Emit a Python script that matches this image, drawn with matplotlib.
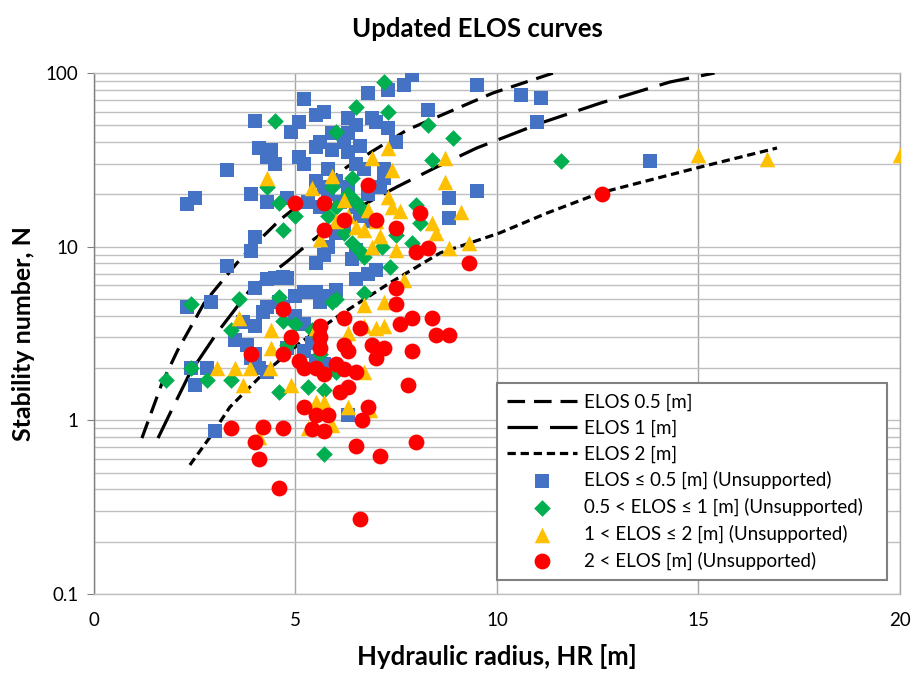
import matplotlib
matplotlib.use("Agg")
import matplotlib.pyplot as plt
from matplotlib.ticker import FixedLocator, NullFormatter

plt.rcParams["font.family"] = ["Lato", "DejaVu Sans"]

# ELOS design curves (hydraulic radius vs stability number)
elos05_hr = [1.19, 1.69, 2.08, 2.75, 3.67, 4.62, 6.28, 7.77, 9.90, 11.4]
elos05_n = [0.79, 1.64, 2.54, 4.80, 8.7, 14.3, 28.8, 47.0, 76.7, 100.0]

elos1_hr = [1.59, 1.89, 2.38, 3.05, 3.87, 4.79, 5.36, 6.35, 7.52, 8.51, 9.50, 11.14, 12.56, 14.29, 15.4]
elos1_n = [0.79, 1.10, 1.87, 3.18, 5.63, 8.2, 10.6, 15.8, 22.1, 28.8, 37.0, 52.0, 67.0, 88.7, 100.0]

elos2_hr = [2.38, 2.88, 3.37, 4.12, 5.11, 6.03, 7.34, 8.59, 10.07, 11.24, 12.56, 14.96, 16.95]
elos2_n = [0.553, 0.80, 1.19, 1.78, 2.79, 3.94, 6.18, 9.2, 12.0, 15.6, 20.4, 28.4, 37.0]

# case histories, grouped by ELOS
blue_hr = [2.3, 2.5, 3.3, 4.0, 3.9, 4.1, 4.4, 4.5, 4.3, 4.0, 4.3, 4.8, 4.9, 5.2, 5.1, 5.7, 5.5, 5.1,
           5.2, 5.5, 5.9, 5.9, 5.6, 5.8, 5.5, 5.7, 6.0, 6.2, 6.3, 6.5, 6.6, 6.3, 6.5, 6.7, 6.3, 6.8,
           7.3, 7.7, 7.9, 6.9, 7.0, 7.3, 7.5, 8.3, 7.2, 9.5, 10.6, 11.1, 11.0, 13.8, 9.5, 8.8, 8.8,
           2.3, 2.9, 3.3, 3.9, 4.0, 4.3, 4.5, 4.7, 4.8, 3.7, 4.0, 4.3, 4.2, 4.6, 4.7, 3.5, 3.8, 4.0,
           4.1, 4.3, 3.9, 2.4, 2.5, 2.8, 3.0, 5.0, 5.2, 5.5, 5.8, 5.6, 6.0, 5.5, 5.7, 5.8, 6.0, 6.2,
           6.4, 6.5, 5.3, 5.6, 5.8, 6.1, 6.3, 6.5, 6.8, 6.6, 6.9, 7.1, 7.2, 6.5, 6.8, 7.0, 5.4, 5.6,
           5.5, 5.7, 5.2, 6.3, 5.0, 5.2, 4.8]
blue_n = [17.5, 19.0, 27.5, 53, 20, 37, 36, 30, 33, 11.3, 18, 19, 46, 71, 52, 60, 57, 33,
          30, 37.5, 36, 45, 40, 28, 24, 22, 24, 40, 45, 50, 38, 35, 30, 28, 55, 77,
          80, 85, 97, 55, 52, 48, 40, 61, 28, 85, 75, 72, 52, 31, 21, 14.6, 19,
          4.5, 4.8, 7.7, 9.5, 5.8, 6.5, 6.6, 6.7, 6.6, 3.7, 3.5, 4.5, 4.2, 4.8, 4.5, 2.9, 2.7, 2.4,
          2.0, 1.9, 2.3, 2.0, 1.6, 2.0, 0.87, 5.2, 5.5, 5.5, 5.2, 4.8, 5.6, 8.0, 9.0, 10.0, 12.0, 13.0,
          8.5, 9.6, 18, 17, 20, 18, 22, 17, 20, 15, 14, 22, 25, 6.5, 7.0, 7.3, 2.8, 3.0,
          2.2, 2.1, 2.5, 1.07, 4.0, 3.6, 2.6]

green_hr = [1.8, 2.4, 2.4, 2.8, 3.4, 3.4, 3.6, 4.6, 4.6, 4.7, 5.0, 5.7, 5.3, 5.7, 5.9, 6.7, 7.35,
            6.7, 7.2, 6.5, 7.3, 6.0, 8.3, 8.9, 8.4, 6.4, 8.0, 8.1, 4.5, 4.6, 5.0, 4.7, 4.3, 6.4,
            7.9, 7.15, 7.5, 11.6, 6.0, 5.8, 6.0, 6.2, 6.3, 6.5, 6.7, 6.6, 5.9, 6.0, 5.6, 5.4, 4.8]
green_n = [1.7, 4.7, 2.0, 1.7, 1.7, 3.3, 5.0, 1.45, 5.1, 3.75, 3.6, 0.64, 1.56, 1.5, 4.8, 5.4, 7.6,
           8.7, 89, 64, 60, 46, 50, 42, 31.6, 24.8, 17.4, 13.7, 53, 17.8, 15, 12.5, 22, 10.5,
           10.5, 9.9, 11.7, 31, 5.0, 15, 17, 12, 20, 18, 16, 9.5, 22, 1.9, 2.4, 3.3, 2.7]

yellow_hr = [3.05, 3.5, 3.87, 4.37, 3.7, 4.4, 4.4, 3.6, 4.9, 4.1, 5.5, 6.7, 7.2, 7.0, 6.3, 6.7,
             5.5, 5.7, 6.3, 6.85, 5.3, 5.9, 7.7, 8.8, 9.3, 7.2, 6.7, 7.3, 6.9, 7.4, 8.7, 8.7, 9.1,
             5.9, 5.4, 6.2, 6.8, 7.3, 7.4, 8.4, 8.5, 6.5, 6.7, 5.6, 7.1, 7.5, 15.0, 16.7, 20.0,
             4.3, 6.0, 6.3, 7.0, 7.6, 6.9]
yellow_n = [2.0, 2.0, 2.0, 2.0, 1.6, 3.3, 2.6, 3.9, 1.6, 0.8, 3.4, 3.5, 3.5, 3.4, 3.2, 1.9,
            1.27, 1.27, 1.2, 1.15, 0.9, 0.94, 6.4, 9.8, 10.5, 4.8, 4.6, 37, 32.5, 27.6, 32.5, 23.6, 15.8,
            25.4, 21.8, 18.6, 16.2, 19.3, 17, 13.7, 12, 13, 12.5, 11, 11.5, 9.6, 33.5, 32, 33.5,
            25, 14, 15, 14, 16, 10]

red_hr = [9.3, 7.5, 7.5, 7.6, 7.9, 8.4, 8.5, 8.8, 6.9, 7.2, 7.0, 7.9, 7.8, 6.2, 6.6, 5.6, 4.9,
          5.6, 5.6, 6.2, 6.3, 4.7, 5.1, 5.2, 5.5, 5.7, 6.0, 6.2, 6.5, 6.1, 6.3, 6.8, 6.65, 5.2,
          5.5, 5.8, 5.4, 5.7, 4.7, 6.5, 7.1, 8.0, 4.6, 6.6, 4.7, 8.0, 8.3, 6.8, 5.0, 5.7, 6.2,
          5.7, 7.0, 7.5, 8.1, 3.9, 3.4, 4.2, 4.0, 4.1, 12.6]
red_n = [8.1, 5.8, 4.7, 3.6, 3.9, 3.9, 3.1, 3.1, 2.7, 2.6, 2.3, 2.5, 1.6, 3.9, 3.4, 3.5, 3.0,
         3.0, 2.6, 2.7, 2.5, 2.4, 2.2, 2.0, 2.0, 1.84, 2.1, 1.98, 1.9, 1.45, 1.55, 1.2, 1.0, 1.19,
         1.07, 1.07, 0.89, 0.87, 0.9, 0.71, 0.62, 0.75, 0.41, 0.27, 4.4, 9.3, 9.8, 22.7, 17.9, 17.9, 14.3,
         12.5, 14.3, 12.8, 15.6, 2.4, 0.9, 0.92, 0.75, 0.6, 20.2]

fig = plt.figure(figsize=(9.23, 6.79), dpi=100)
ax = fig.add_axes([0.1018, 0.1252, 0.8732, 0.7673])

lw = 2.3
ax.plot(elos05_hr, elos05_n, color="black", lw=lw, dashes=(5.5, 2.8), label="ELOS 0.5 [m]", zorder=3)
ax.plot(elos1_hr, elos1_n, color="black", lw=lw, dashes=(9.5, 3.8), label="ELOS 1 [m]", zorder=3)
ax.plot(elos2_hr, elos2_n, color="black", lw=lw, dashes=(2.6, 1.5), label="ELOS 2 [m]", zorder=3)

ax.scatter(blue_hr, blue_n, marker="s", s=100, color="#4472C4", linewidths=0,
           label="ELOS \u2264 0.5 [m] (Unsupported)", zorder=4)
ax.scatter(green_hr, green_n, marker="D", s=72, color="#00B050", linewidths=0,
           label="0.5 < ELOS \u2264 1 [m] (Unsupported)", zorder=5)
ax.scatter(yellow_hr, yellow_n, marker="^", s=125, color="#FFC000", linewidths=0,
           label="1 < ELOS \u2264 2 [m] (Unsupported)", zorder=6)
ax.scatter(red_hr, red_n, marker="o", s=130, color="#FF0000", linewidths=0,
           label="2 < ELOS [m] (Unsupported)", zorder=7)

ax.set_yscale("log")
ax.set_xlim(0, 20)
ax.set_ylim(0.1, 100)

ax.set_xticks([0, 5, 10, 15, 20])
ax.set_yticks([0.1, 1, 10, 100])
ax.set_yticklabels(["0.1", "1", "10", "100"])
minor = [m * 10.0 ** e for e in (-1, 0, 1) for m in range(2, 10)]
ax.yaxis.set_minor_locator(FixedLocator(minor))
ax.yaxis.set_minor_formatter(NullFormatter())

ax.tick_params(axis="both", which="major", labelsize=13.5, colors="#808080", labelcolor="black")
ax.tick_params(axis="x", which="major", length=0, pad=13)
ax.tick_params(axis="y", which="major", length=5, pad=6)
ax.tick_params(axis="y", which="minor", length=0)

ax.grid(True, which="major", axis="x", color="#A6A6A6", lw=1.0)
ax.grid(True, which="both", axis="y", color="#BFBFBF", lw=1.0)
ax.set_axisbelow(True)

for side in ("top", "bottom"):
    ax.spines[side].set_color("#BFBFBF")
ax.spines["right"].set_color("#A6A6A6")
ax.spines["left"].set_color("#808080")
for sp in ax.spines.values():
    sp.set_linewidth(1.0)

ax.set_title("Updated ELOS curves", fontsize=18.5, fontweight="bold", pad=26, x=0.476)
ax.set_xlabel("Hydraulic radius, HR [m]", fontsize=18.5, fontweight="bold", labelpad=11)
ax.set_ylabel("Stability number, N", fontsize=18, fontweight="bold", labelpad=8)

leg = ax.legend(loc="lower left", bbox_to_anchor=(0.5, 0.027, 0.484, 0.374), mode="expand",
                fontsize=13.5, handlelength=3.7, handletextpad=0.37, labelspacing=0.45,
                borderpad=0.55, fancybox=False, framealpha=1, edgecolor="#808080",
                scatterpoints=1, borderaxespad=0)
leg.get_frame().set_linewidth(1.5)
leg.set_zorder(10)

fig.savefig("out.png", dpi=100)
